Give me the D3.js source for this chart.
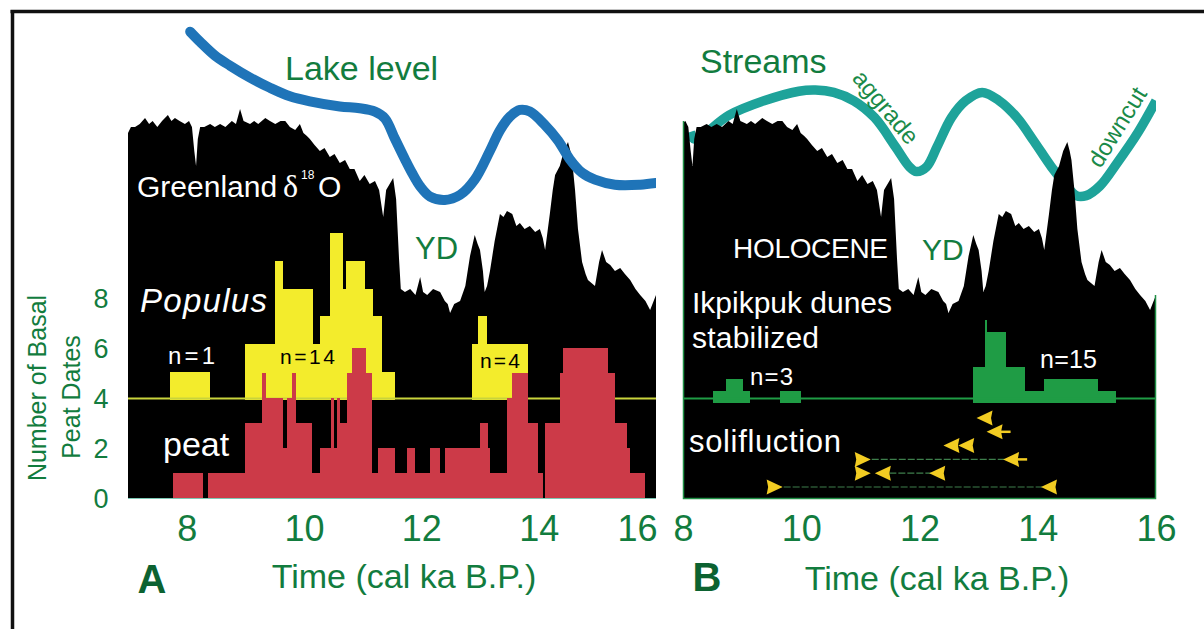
<!DOCTYPE html>
<html><head><meta charset="utf-8">
<script src="https://cdn.jsdelivr.net/npm/d3@7"></script>
<style>
html,body{margin:0;padding:0;background:#fff;}
svg{display:block;}
text{font-family:"Liberation Sans",Arial,Helvetica,sans-serif;}
</style></head><body>
<svg id="chart" width="1204" height="629"></svg>
<script>
// ---------------- data ----------------
const xTicks = [8, 10, 12, 14, 16];
const yTicks = [0, 2, 4, 6, 8];

// Greenland delta-18O (per mil), age in cal ka B.P.
const d18oAge = [7.00,7.05,7.12,7.20,7.29,7.36,7.42,7.50,7.58,7.68,7.74,7.80,7.88,7.97,8.04,8.09,8.13,8.16,8.19,8.23,
  8.30,8.40,8.48,8.57,8.66,8.77,8.84,8.91,8.97,9.08,9.15,9.22,9.34,9.42,9.51,9.60,9.68,9.76,9.85,9.93,
  9.99,10.05,10.10,10.18,10.27,10.35,10.44,10.52,10.61,10.70,10.78,10.86,10.95,11.03,11.12,11.21,11.28,11.35,11.40,11.46,
  11.52,11.57,11.62,11.65,11.72,11.81,11.90,11.98,12.03,12.10,12.20,12.32,12.40,12.45,12.49,12.56,12.66,12.75,12.83,12.91,
  12.96,13.00,13.05,13.08,13.12,13.17,13.25,13.34,13.40,13.46,13.55,13.62,13.68,13.76,13.85,13.94,14.02,14.07,14.11,14.15,
  14.19,14.24,14.28,14.36,14.43,14.50,14.54,14.57,14.62,14.67,14.74,14.80,14.84,14.90,14.96,15.03,15.08,15.15,15.22,15.30,
  15.39,15.47,15.56,15.65,15.73,15.82,15.90,15.96,16.00];
const d18oValue = [-35.1,-34.9,-34.9,-34.8,-34.6,-34.8,-34.7,-34.9,-34.7,-34.5,-34.7,-34.6,-34.7,-34.8,-34.7,-34.9,-35.7,-36.2,-35.3,-34.9,
  -34.9,-34.8,-34.9,-34.8,-34.9,-34.7,-34.8,-34.3,-34.7,-34.8,-34.7,-34.8,-34.6,-34.7,-34.8,-34.7,-34.7,-34.9,-35.0,-34.8,
  -35.1,-35.2,-35.3,-35.5,-35.7,-35.6,-35.9,-35.8,-36.1,-36.0,-36.3,-36.3,-36.7,-36.5,-36.8,-36.7,-37.0,-37.9,-37.0,-36.8,
  -36.6,-37.3,-39.3,-40.3,-40.4,-40.3,-40.5,-39.9,-40.4,-40.5,-40.3,-40.4,-40.7,-40.8,-41.1,-40.8,-40.7,-40.2,-39.2,-38.5,
  -38.8,-39.0,-39.7,-40.4,-40.2,-39.7,-38.7,-37.8,-37.9,-37.7,-37.8,-38.2,-38.1,-38.3,-38.2,-38.4,-38.3,-38.6,-39.0,-38.4,
  -37.8,-37.0,-36.5,-36.2,-35.7,-35.4,-35.7,-36.0,-37.0,-38.3,-39.4,-39.8,-40.0,-40.1,-40.2,-39.4,-39.0,-39.4,-39.5,-39.7,
  -39.6,-39.8,-40.0,-40.3,-40.5,-40.7,-41.0,-40.7,-40.5];

// Lake level (relative units)
const lakeAge = [8.06,8.23,8.48,8.74,9.08,9.42,9.76,10.10,10.61,10.95,11.21,11.38,11.55,11.72,11.84,11.98,12.15,12.40,12.66,12.91,
  13.17,13.34,13.51,13.68,13.85,14.11,14.33,14.53,14.74,14.96,15.30,15.73,16.00];
const lakeLevel = [9.9,9.3,8.5,7.9,7.2,6.6,6.1,5.8,5.5,5.4,5.2,4.8,3.6,2.4,1.6,0.8,0.2,0.0,0.3,1.2,
  2.9,4.1,4.9,5.3,5.2,4.4,3.5,2.4,1.6,1.2,0.9,0.9,1.0];

// Stream level (relative units)
const streamAge = [8.12,8.20,8.78,9.37,9.96,10.24,10.55,10.89,11.24,11.59,11.83,11.95,12.12,12.30,12.54,12.78,13.06,13.35,13.65,13.94,
  14.23,14.46,14.65,14.82,15.05,15.34,15.70,16.00];
const streamLevel = [6.5,5.9,7.9,9.1,9.9,10.0,9.8,9.1,7.7,5.3,3.6,3.2,3.6,5.3,7.7,9.1,9.8,9.1,7.7,5.7,
  3.6,2.2,1.2,1.2,2.0,3.9,6.5,9.1];

// Populus basal dates, bins [from, to, count]
const populusBins = [[7.72,8.40,1],[8.99,9.51,2],[9.51,9.64,5],[9.64,10.15,4],[10.15,10.27,2],[10.27,10.44,3],
  [10.44,10.66,6],[10.66,10.72,4],[10.72,11.04,5],[11.04,11.18,4],[11.18,11.33,3],[11.33,11.55,1],
  [12.86,12.97,2],[12.97,13.12,3],[13.12,13.82,2]];

// Basal peat dates, bins [from, to, count]
const peatBins = [[7.77,8.28,1],[8.36,8.99,1],[8.99,9.28,3],[9.28,9.36,5],[9.36,9.64,4],[9.64,9.71,2],[9.71,9.80,4],
  [9.80,9.86,5],[9.86,10.14,3],[10.14,10.27,1],[10.27,10.46,2],[10.46,10.51,4],[10.51,10.56,2],[10.56,10.61,4],
  [10.61,10.73,3],[10.73,10.82,5],[10.82,11.06,6],[11.06,11.16,5],[11.16,11.26,1],[11.26,11.55,2],[11.55,11.76,1],
  [11.76,11.89,2],[11.89,12.15,1],[12.15,12.32,2],[12.32,12.40,1],[12.40,13.00,2],[13.00,13.14,3],[13.14,13.17,2],
  [13.17,13.46,1],[13.46,13.55,4],[13.55,13.82,5],[13.82,13.99,3],[13.99,14.07,1],[14.11,14.36,3],[14.36,14.41,5],
  [14.41,15.18,6],[15.18,15.30,5],[15.30,15.51,3],[15.51,15.56,2],[15.56,15.81,1]];

// Ikpikpuk dune stabilization dates, bins [from, to, count]
const duneBins = [[8.51,8.73,1],[8.73,9.01,2],[9.01,9.13,1],[9.64,9.99,1],[12.91,13.10,3],[13.10,13.15,7],
  [13.15,13.47,6],[13.47,13.79,3],[13.79,14.11,1],[14.11,15.02,2],[15.02,15.32,1]];

// Solifluction: row, age, direction ("L" younger-than / "R" older-than), tail
const soliMarkers = [[0,13.10,"L",0],[1,13.27,"L",1],[2,12.54,"L",0],[2,12.79,"L",0],[3,11.04,"R",0],[3,13.55,"L",1],
  [4,11.04,"R",0],[4,11.38,"L",0],[4,12.30,"L",0],[5,9.55,"R",0],[5,14.19,"L",0]];
const soliLinks = [[3,11.04,13.55],[4,11.49,12.22],[5,9.55,14.19]];

// ---------------- drawing ----------------
const svg = d3.select("#chart");
const GREEN = "#127c3e", DKGREEN = "#0c6231";
const xA = d3.scaleLinear().domain([7,16]).range([128,656]);
const xB = d3.scaleLinear().domain([8,16]).range([683,1156]);
const yPeat = d3.scaleLinear().domain([0,8]).range([498,298]);
const yPop = d3.scaleLinear().domain([0,6]).range([399.5,233]);
const yDune = d3.scaleLinear().domain([0,7]).range([403,320]);
const yIso = d3.scaleLinear().domain([-34,-42]).range([100,340]);
const yLake = d3.scaleLinear().domain([0,10]).range([200,30]);
const yStream = d3.scaleLinear().domain([0,10]).range([210,90]);
const rowY = d3.scaleLinear().domain([0,5]).range([418,487]);

const iso = d18oAge.map((t,i)=>({t, v:d18oValue[i]}));
const lake = lakeAge.map((t,i)=>({t, v:lakeLevel[i]}));
const stream = streamAge.map((t,i)=>({t, v:streamLevel[i]}));

// frame
svg.append("line").attr("x1",10.5).attr("x2",1204).attr("y1",11.5).attr("y2",11.5).attr("stroke","#111").attr("stroke-width",3.5);
svg.append("line").attr("x1",12.5).attr("x2",12.5).attr("y1",10).attr("y2",629).attr("stroke","#111").attr("stroke-width",3.5);

const defs = svg.append("defs");
defs.append("clipPath").attr("id","clipA").append("rect").attr("x",128).attr("y",0).attr("width",528).attr("height",500);
defs.append("clipPath").attr("id","clipB").append("rect").attr("x",683).attr("y",0).attr("width",473).attr("height",500);

// streams line (under the isotope record)
const gB = svg.append("g").attr("clip-path","url(#clipB)");
gB.append("path").datum(stream)
  .attr("d", d3.line().x(d=>xB(d.t)).y(d=>yStream(d.v)).curve(d3.curveCatmullRom.alpha(0.5)))
  .attr("fill","none").attr("stroke","#1ea39a").attr("stroke-width",9.5);

// isotope areas
function isoArea(g, x){
  g.append("path").datum(iso)
    .attr("d", d3.area().x(d=>x(d.t)).y0(498.5).y1(d=>yIso(d.v)))
    .attr("fill","#000");
}
const gA = svg.append("g").attr("clip-path","url(#clipA)");
isoArea(gA, xA);
isoArea(gB, xB);

// lake level
gA.append("path").datum(lake)
  .attr("d", d3.line().x(d=>xA(d.t)).y(d=>yLake(d.v)).curve(d3.curveCatmullRom.alpha(0.5)))
  .attr("fill","none").attr("stroke","#1f74b8").attr("stroke-width",10).attr("stroke-linecap","round");

// histograms
function bins(g, data, x, y, color){
  g.selectAll(null).data(data).enter().append("rect")
    .attr("x", d=>x(d[0])).attr("width", d=>x(d[1])-x(d[0]))
    .attr("y", d=>y(d[2])).attr("height", d=>y(0)-y(d[2]))
    .attr("fill", color).attr("shape-rendering","crispEdges");
}
bins(gA, populusBins, xA, yPop, "#f3ec2c");
gA.append("line").attr("x1",128).attr("x2",656).attr("y1",398.5).attr("y2",398.5).attr("stroke","#c9d43c").attr("stroke-width",2);
bins(gA, peatBins, xA, yPeat, "#cc3a48");
bins(gB, duneBins, xB, yDune, "#1f9c45");
gB.append("line").attr("x1",683).attr("x2",1156).attr("y1",398.5).attr("y2",398.5).attr("stroke","#1f9c45").attr("stroke-width",2);

// panel outlines (green edges)
svg.append("path").attr("d",`M683.5,${yIso(-34.7)} V498.5 H1155.5 V${yIso(-40.5)}`).attr("fill","none").attr("stroke","#1f8f45").attr("stroke-width",1.5);
svg.append("line").attr("x1",128).attr("x2",656).attr("y1",498.5).attr("y2",498.5).attr("stroke","#7cc8b4").attr("stroke-width",1.2);

// solifluction
const gS = svg.append("g");
gS.selectAll(null).data(soliLinks).enter().append("line")
  .attr("x1", d=>xB(d[1])).attr("x2", d=>xB(d[2]))
  .attr("y1", d=>rowY(d[0])).attr("y2", d=>rowY(d[0]))
  .attr("stroke","#3e7f4c").attr("stroke-width",1.2).attr("stroke-dasharray","7,2");
gS.selectAll(null).data(soliMarkers.filter(d=>d[3])).enter().append("line")
  .attr("x1", d=>xB(d[1])).attr("x2", d=>xB(d[1])+16)
  .attr("y1", d=>rowY(d[0])).attr("y2", d=>rowY(d[0]))
  .attr("stroke","#f2cc22").attr("stroke-width",2.5);
gS.selectAll(null).data(soliMarkers).enter().append("path")
  .attr("transform", d=>`translate(${xB(d[1])},${rowY(d[0])})`)
  .attr("d", d=> d[2]==="L" ? "M-8,0 L8,-7.5 L6.5,0 L8,7.5 Z" : "M8,0 L-8,-7.5 L-6.5,0 L-8,7.5 Z")
  .attr("fill","#f2cc22");

// axes
function xAxis(x, lastEnd){
  const g = svg.append("g").attr("transform","translate(0,498)")
    .call(d3.axisBottom(x).tickValues(xTicks).tickSize(0).tickFormat(d3.format("d")));
  g.select(".domain").remove();
  g.selectAll("text").attr("y",43).attr("dy",0).attr("fill",GREEN)
    .style("font-size","36px").style("font-family","'Liberation Sans',Arial,sans-serif");
  if (lastEnd) g.selectAll("text").filter(d=>d===16).attr("text-anchor","end").attr("x",1);
}
xAxis(xA, true);
xAxis(xB, false);

const gy = svg.append("g").attr("transform","translate(109,0)")
  .call(d3.axisLeft(yPeat).tickValues(yTicks).tickSize(0));
gy.select(".domain").remove();
gy.selectAll("text").attr("x",-8).attr("dy","0.36em").attr("text-anchor","middle").attr("fill",GREEN)
  .style("font-size","27px").style("font-family","'Liberation Sans',Arial,sans-serif");

// labels
function txt(s, x, y, size, color, opts={}){
  const t = svg.append("text").attr("x",x).attr("y",y).text(s)
    .attr("fill",color).style("font-size",size+"px");
  if (opts.anchor) t.attr("text-anchor",opts.anchor);
  if (opts.weight) t.style("font-weight",opts.weight);
  if (opts.italic) t.style("font-style","italic");
  if (opts.len) t.attr("textLength",opts.len);
  if (opts.rot!==undefined) t.attr("transform",`rotate(${opts.rot},${x},${y})`);
  return t;
}
txt("Number of Basal", 46, 388, 25, GREEN, {anchor:"middle", rot:-90});
txt("Peat Dates", 80, 397, 25, GREEN, {anchor:"middle", rot:-90});
txt("Time (cal ka B.P.)", 404, 588, 34, GREEN, {anchor:"middle"});
txt("Time (cal ka B.P.)", 937, 590, 34, GREEN, {anchor:"middle"});
txt("A", 152, 593, 40, DKGREEN, {anchor:"middle", weight:"bold"});
txt("B", 707, 591, 40, DKGREEN, {anchor:"middle", weight:"bold"});

txt("Lake level", 285, 80, 34, GREEN);
txt("Streams", 700, 73, 34, GREEN);
txt("YD", 415, 259, 31, GREEN);
txt("YD", 922, 260, 30, GREEN);

// Greenland d18O
const gl = svg.append("text").attr("y",197).attr("fill","#fff").style("font-size","30px");
gl.append("tspan").attr("x",137).text("Greenland");
gl.append("tspan").attr("x",283).style("font-family","'Liberation Serif','Times New Roman',serif").style("font-size","32px").text("δ");
gl.append("tspan").attr("x",301).attr("y",179).style("font-size","12px").text("18");
gl.append("tspan").attr("x",318).attr("y",197).text("O");

txt("Populus", 140, 312, 33, "#fff", {italic:true, len:127});
txt("n=1", 168, 364, 24, "#fff", {len:47});
txt("n=14", 280, 364, 21, "#000", {len:55});
txt("n=4", 480, 368, 21, "#000", {len:40});
txt("peat", 163, 456, 34, "#fff");

txt("HOLOCENE", 733, 258, 28, "#fff", {len:155});
txt("Ikpikpuk dunes", 692, 313, 30, "#fff", {len:200});
txt("stabilized", 692, 348, 30, "#fff", {len:127});
txt("n=3", 750, 385, 24, "#fff", {len:43});
txt("n=15", 1040, 368, 25, "#fff", {len:57});
txt("solifluction", 689, 452, 31, "#fff", {len:152});

svg.append("text").attr("transform","translate(886,107) rotate(50)").attr("text-anchor","middle").attr("dy","0.35em")
  .attr("fill","#1a8a48").style("font-size","24px").text("aggrade");
svg.append("text").attr("transform","translate(1117,127) rotate(-58)").attr("text-anchor","middle").attr("dy","0.35em")
  .attr("fill","#1a8a48").style("font-size","24px").text("downcut");
</script>
</body></html>
